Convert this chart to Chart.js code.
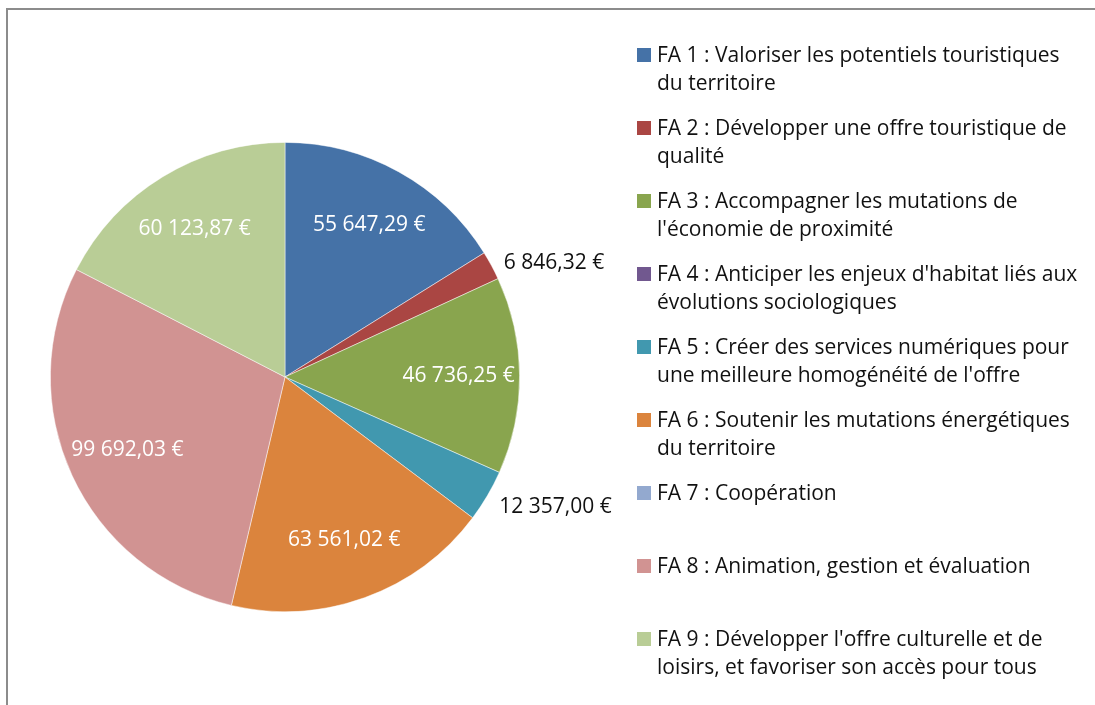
<!DOCTYPE html>
<html>
<head>
<meta charset="utf-8">
<script src="https://cdn.jsdelivr.net/npm/chart.js@4/dist/chart.umd.min.js"></script>
<style>
  body { margin: 0; background: #fff; }
  #wrap { position: relative; width: 1095px; height: 705px; overflow: hidden; }
  #frame { position: absolute; left: 6px; top: 8px; width: 1200px; height: 800px;
           border-left: 2px solid #8c8c8c; border-top: 2px solid #8c8c8c; }
  #legend { position: absolute; left: 637px; top: 40px; width: 460px;
            font-family: "Open Sans", sans-serif; font-size: 21px; color: #111; }
  .item { position: absolute; left: 0; width: 460px; line-height: 28px; }
  .box { position: absolute; left: 0; top: 8px; width: 14px; height: 14px; }
  .txt { position: absolute; left: 20px; white-space: nowrap; }
</style>
</head>
<body>
<div id="wrap">
  <canvas id="pieChart" width="1095" height="705"></canvas>
  <div id="frame"></div>
  <div id="legend"></div>
</div>
<script>
/* global Chart */

const categories = [
  ['FA 1 : Valoriser les potentiels touristiques', 'du territoire'],
  ['FA 2 : Développer une offre touristique de', 'qualité'],
  ['FA 3 : Accompagner les mutations de', "l'économie de proximité"],
  ["FA 4 : Anticiper les enjeux d'habitat liés aux", 'évolutions sociologiques'],
  ['FA 5 : Créer des services numériques pour', "une meilleure homogénéité de l'offre"],
  ['FA 6 : Soutenir les mutations énergétiques', 'du territoire'],
  ['FA 7 : Coopération'],
  ['FA 8 : Animation, gestion et évaluation'],
  ["FA 9 : Développer l'offre culturelle et de", 'loisirs, et favoriser son accès pour tous'],
];
const amounts = [55647.29, 6846.32, 46736.25, 0, 12357.00, 63561.02, 0, 99692.03, 60123.87];
const colors = ['#4572a7', '#aa4643', '#89a54e', '#71588f', '#4198af', '#db843d', '#93a9cf', '#d19392', '#b9cd96'];

// format "55 647,29 €"
function euro(v) {
  const parts = v.toFixed(2).split('.');
  const intPart = parts[0].replace(/\B(?=(\d{3})+(?!\d))/g, ' ');
  return intPart + ',' + parts[1] + ' €';
}

// legend (html)
const legendEle = document.getElementById('legend');
for (let i = 0; i < categories.length; i++) {
  const item = document.createElement('div');
  item.className = 'item';
  item.style.top = (i * 73) + 'px';
  let html = '<div class="box" style="background:' + colors[i] + '"></div>';
  for (let j = 0; j < categories[i].length; j++) {
    html += '<div class="txt" style="top:' + (j * 28) + 'px">' + categories[i][j] + '</div>';
  }
  item.innerHTML = html;
  legendEle.appendChild(item);
}

// value labels on the slices
const valueLabels = {
  id: 'valueLabels',
  afterDatasetsDraw(chart) {
    const ctx = chart.ctx;
    const meta = chart.getDatasetMeta(0);
    const total = amounts.reduce((a, b) => a + b, 0);
    ctx.save();
    ctx.font = '21px "Open Sans", sans-serif';
    ctx.textBaseline = 'middle';
    meta.data.forEach((arc, i) => {
      const v = amounts[i];
      if (!v) return;
      const mid = (arc.startAngle + arc.endAngle) / 2;
      const r = arc.outerRadius;
      if (v / total < 0.05) {
        const d = r + 14;
        const x = arc.x + Math.cos(mid) * d;
        const y = arc.y + Math.sin(mid) * d + 4;
        ctx.fillStyle = '#111';
        ctx.textAlign = Math.cos(mid) >= 0 ? 'left' : 'right';
        ctx.fillText(euro(v), x, y);
      } else {
        const d = r * 0.74;
        ctx.fillStyle = '#fff';
        ctx.textAlign = 'center';
        ctx.fillText(euro(v), arc.x + Math.cos(mid) * d, arc.y + Math.sin(mid) * d);
      }
    });
    ctx.restore();
  },
};

const ctx = document.getElementById('pieChart');
const pieChart = new Chart(ctx, {
  type: 'pie',
  data: {
    labels: categories.map(c => c.join(' ')),
    datasets: [
      {
        data: amounts,
        backgroundColor: colors,
        borderColor: 'rgba(255, 255, 255, 0.6)',
        borderWidth: 0.8,
      },
    ],
  },
  options: {
    responsive: false,
    animation: false,
    layout: {
      padding: { left: 50, right: 575, top: 142, bottom: 93 },
    },
    plugins: {
      legend: { display: false },
      tooltip: { enabled: false },
    },
  },
  plugins: [valueLabels],
});
</script>
</body>
</html>
